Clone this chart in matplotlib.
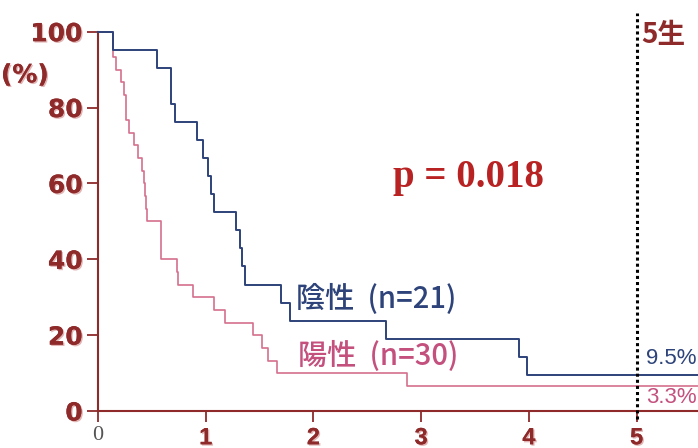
import matplotlib
matplotlib.use("Agg")
import matplotlib.pyplot as plt
import matplotlib.patheffects as pe

# 陰性 (n=21): step times (years) and survival (%)
neg_time = [0, 0.136, 0.545, 0.674, 0.714, 0.921, 0.977, 1.023, 1.045, 1.076,
            1.28, 1.317, 1.339, 1.364, 1.70, 1.78, 2.67, 3.91, 3.98]
neg_surv = [100, 95.2, 90.5, 81.0, 76.2, 71.4, 66.7, 61.9, 57.1, 52.4,
            47.6, 42.9, 38.1, 33.3, 28.6, 23.8, 19.0, 14.3, 9.5]

# 陽性 (n=30)
pos_time = [0, 0.136, 0.14, 0.167, 0.213, 0.241, 0.26, 0.29, 0.334, 0.374,
            0.405, 0.427, 0.436, 0.445, 0.457, 0.585, 0.73, 0.745, 0.884,
            1.076, 1.178, 1.441, 1.518, 1.58, 1.663, 2.873]
pos_surv = [100, 96.7, 93.3, 90.0, 86.7, 83.3, 76.7, 73.3, 70.0, 66.7,
            63.3, 60.0, 56.7, 53.3, 50.0, 40.0, 36.7, 33.3, 30.0,
            26.7, 23.3, 20.0, 16.7, 13.3, 10.0, 6.7]

xticks = [0, 1, 2, 3, 4, 5]
yticks = [0, 20, 40, 60, 80, 100]
five_year = 5
neg_label = "陰性  (n=21)"
pos_label = "陽性  (n=30)"
neg_rate = "9.5%"
pos_rate = "3.3%"
p_text = "p = 0.018"

axis_red = "#8e2a2a"
navy = "#2d4379"
pink = "#d6708e"
pink_text = "#c4507e"

fig = plt.figure(figsize=(6.98, 4.48), dpi=100)
ax = fig.add_axes([98 / 698, 1 - 411 / 448, 1 - 98 / 698, (411 - 31.7) / 448])
xmax = 5.57
ax.set_xlim(0, xmax)
ax.set_ylim(0, 100)

ax.step(neg_time + [xmax], neg_surv + [neg_surv[-1]], where="post",
        color=navy, lw=1.4, clip_on=False, zorder=3)
ax.step(pos_time + [xmax], pos_surv + [pos_surv[-1]], where="post",
        color=pink, lw=1.2, clip_on=False, zorder=2)

# 5-year dotted line
ax.plot([five_year, five_year], [-2, 105], color="black", ls=(0, (1, 1)),
        lw=2.2, clip_on=False, zorder=4)

for s in ["top", "right"]:
    ax.spines[s].set_visible(False)
for s in ["left", "bottom"]:
    ax.spines[s].set_color(axis_red)
    ax.spines[s].set_linewidth(1.5)

shadow = [pe.withSimplePatchShadow(offset=(1, -1), shadow_rgbFace="#e2b5b5", alpha=1),
          pe.Normal()]

ax.set_yticks(yticks)
ax.set_yticklabels([str(v) for v in yticks])
ax.tick_params(axis="y", length=8, width=1.3, color=axis_red, pad=3)
for lab in ax.get_yticklabels():
    lab.set_fontsize(18)
    lab.set_fontweight("bold")
    lab.set_color(axis_red)
    lab.set_path_effects(shadow)

ax.set_xticks(xticks)
ax.set_xticklabels([str(v) for v in xticks])
ax.tick_params(axis="x", length=8, width=1.3, color=axis_red, pad=3)
for i, lab in enumerate(ax.get_xticklabels()):
    if i == 0:
        lab.set_family("Liberation Serif")
        lab.set_fontsize(16)
        lab.set_color("#555555")
    else:
        lab.set_family("Liberation Sans")
        lab.set_fontsize(17)
        lab.set_fontweight("bold")
        lab.set_color(axis_red)
        lab.set_path_effects(shadow)

ax.text(-0.68, 88.5, "(%)", fontsize=18, fontweight="bold", color=axis_red,
        ha="center", va="center", clip_on=False, path_effects=shadow)

ax.text(3.44, 61.5, p_text, family="Liberation Serif", fontsize=28,
        fontweight="bold", color="#b82222", ha="center", va="center")

cjk = ["Noto Sans CJK JP", "DejaVu Sans"]
ax.text(5.04, 99, "5生", family=cjk, fontsize=20, fontweight="bold",
        color=axis_red, ha="left", va="center", clip_on=False)

ax.text(1.84, 29.3, neg_label, family=cjk, fontsize=21, fontweight="medium",
        color=navy, ha="left", va="center")
ax.text(1.86, 14.5, pos_label, family=cjk, fontsize=21, fontweight="medium",
        color=pink_text, ha="left", va="center")

ax.text(xmax - 0.01, 13.8, neg_rate, family="Liberation Sans", fontsize=16,
        color=navy, ha="right", va="center", clip_on=False)
ax.text(xmax - 0.01, 3.5, pos_rate, family="Liberation Sans", fontsize=16,
        color=pink_text, ha="right", va="center", clip_on=False)

fig.savefig("out.png", dpi=100)
